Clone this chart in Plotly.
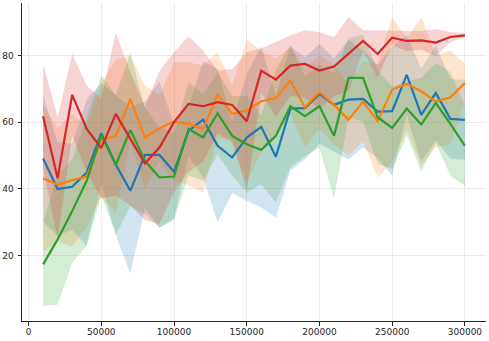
import plotly.graph_objects as go

steps = [10000 * i for i in range(1, 31)]

blue_mean = [49.1, 39.9, 40.6, 44.9, 56.7, 47.2, 39.4, 50.2, 50.2, 45.1, 57.4, 60.8, 52.9, 49.4, 55.4,
             58.6, 49.6, 64.1, 64.2, 68.5, 65.2, 66.8, 67.0, 63.2, 63.3, 74.2, 62.2, 68.8, 61.0, 60.7]
blue_std = [19, 14, 13, 22, 15, 21, 25, 16, 22, 14, 7.5, 17.4, 23, 10.7, 19,
            24.2, 18.2, 18.7, 15.3, 15, 14, 18, 14.5, 14, 19.4, 12, 14, 14.2, 12, 12]

orange_mean = [43.2, 41.2, 42.6, 43.7, 54.6, 55.9, 67.0, 55.4, 58.2, 60.2, 59.5, 58.0, 68.2, 62.5, 63.5,
               66.3, 67.2, 72.5, 64.5, 69.0, 65.2, 60.7, 66.2, 60.3, 69.8, 71.5, 69.3, 66.2, 67.5, 71.8]
orange_std = [22, 17, 20, 15, 17, 23, 13, 15.6, 10, 17.8, 18.5, 19, 12.8, 8.5, 21.5,
              15, 12, 10, 12, 11, 12, 10.7, 12, 17, 21.8, 13.6, 22.3, 13.8, 14, 5.7]

green_mean = [17.3, 24.8, 33.3, 42.4, 56.1, 47.2, 57.7, 48.4, 43.4, 43.7, 58.0, 55.4, 62.7, 55.9, 53.4,
              51.7, 55.9, 64.8, 61.8, 64.8, 55.9, 73.3, 73.3, 61.5, 58.3, 64.1, 59.3, 65.8, 59.5, 52.9]
green_std = [12.4, 19.6, 15.5, 19.4, 18, 21, 23, 16, 15, 13, 14, 13, 12.3, 12, 14.5,
             10.3, 20, 18.4, 12, 12.4, 18.8, 12, 13, 14, 12.4, 8.2, 14, 12, 15.6, 12]

red_mean = [61.8, 43.2, 68.2, 58.0, 52.2, 62.5, 55.0, 47.6, 52.4, 60.0, 65.5, 64.8, 66.0, 65.2, 60.3,
            75.5, 72.8, 77.0, 77.5, 75.5, 76.7, 80.5, 84.4, 80.5, 85.4, 84.4, 84.6, 83.9, 85.6, 86.1]
red_std = [15.7, 18.3, 12.3, 13.0, 15.0, 24.5, 20.0, 17.0, 23.0, 21.0, 20.3, 16.7, 9.5, 10.8, 20.7,
           6.7, 11.2, 9.1, 10.1, 11.5, 8.9, 11.1, 3.2, 7.1, 2.2, 3.0, 2.8, 4.1, 1.5, 0.6]

series = [
    ("blue", blue_mean, blue_std, "#1f77b4", "rgba(31,119,180,0.2)"),
    ("orange", orange_mean, orange_std, "#ff7f0e", "rgba(255,127,14,0.2)"),
    ("green", green_mean, green_std, "#2ca02c", "rgba(44,160,44,0.2)"),
    ("red", red_mean, red_std, "#d62728", "rgba(214,39,40,0.2)"),
]

x_ticks = [0, 50000, 100000, 150000, 200000, 250000, 300000]
y_ticks = [20, 40, 60, 80]

fig = go.Figure()
for name, m, s, col, fcol in series:
    upper = [a + b for a, b in zip(m, s)]
    lower = [a - b for a, b in zip(m, s)]
    fig.add_trace(go.Scatter(
        x=steps + steps[::-1], y=upper + lower[::-1],
        fill="toself", fillcolor=fcol, line=dict(width=0),
        mode="lines", hoverinfo="skip", showlegend=False))
for name, m, s, col, fcol in series:
    fig.add_trace(go.Scatter(
        x=steps, y=m, mode="lines", name=name,
        line=dict(color=col, width=2.2), showlegend=False))

axis_common = dict(
    showline=True, linecolor="#262626", linewidth=1,
    ticks="outside", ticklen=3.5, tickwidth=1, tickcolor="#262626",
    showgrid=True, gridcolor="#ebebeb", gridwidth=1,
    zeroline=False, mirror=False, automargin=False,
    tickfont=dict(family="DejaVu Sans", size=9, color="#262626"),
)

fig.update_layout(
    width=489, height=341,
    margin=dict(l=22, r=3, t=3, b=20, pad=0),
    paper_bgcolor="white", plot_bgcolor="white",
    xaxis=dict(range=[-4500, 314500], tickvals=x_ticks,
               ticktext=[str(v) for v in x_ticks], ticklabelstandoff=-1, **axis_common),
    yaxis=dict(range=[0.3, 95.8], tickvals=y_ticks,
               ticktext=[str(v) for v in y_ticks], ticklabelstandoff=2, **axis_common),
)

fig.write_html("out.html", config={"displayModeBar": False},
               post_script="document.body.style.margin='0';document.body.style.overflow='hidden';")
